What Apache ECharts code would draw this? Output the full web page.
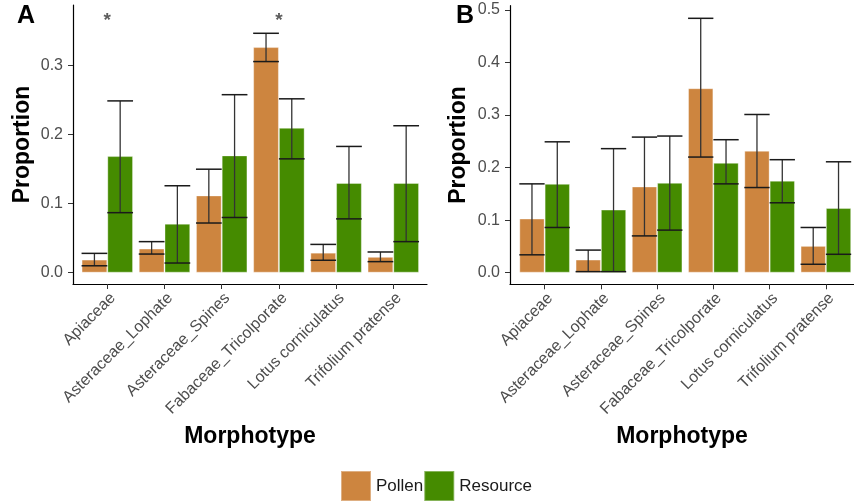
<!DOCTYPE html>
<html><head><meta charset="utf-8">
<script src="https://cdn.jsdelivr.net/npm/echarts@6/dist/echarts.min.js"></script>
<style>html,body{margin:0;padding:0;background:#fff}#c{width:854px;height:501px}</style>
</head><body><div id="c"></div>
<script>
// ---------- data ----------
const categories = ['Apiaceae','Asteraceae_Lophate','Asteraceae_Spines','Fabaceae_Tricolporate','Lotus corniculatus','Trifolium pratense'];
const seriesNames = ['Pollen','Resource'];

// Panel A
const aPollen     = [0.019, 0.035, 0.112, 0.327, 0.029, 0.023];
const aPollenLo   = [0.010, 0.027, 0.072, 0.306, 0.018, 0.016];
const aPollenHi   = [0.028, 0.045, 0.150, 0.347, 0.041, 0.030];
const aResource   = [0.169, 0.071, 0.170, 0.210, 0.130, 0.130];
const aResourceLo = [0.087, 0.014, 0.080, 0.165, 0.078, 0.045];
const aResourceHi = [0.249, 0.126, 0.258, 0.252, 0.183, 0.213];
const aStarCats   = ['Apiaceae','Fabaceae_Tricolporate'];
const aStarLevel  = 0.365;

// Panel B
const bPollen     = [0.103, 0.025, 0.164, 0.351, 0.232, 0.051];
const bPollenLo   = [0.034, 0.002, 0.070, 0.220, 0.162, 0.016];
const bPollenHi   = [0.169, 0.043, 0.258, 0.484, 0.301, 0.086];
const bResource   = [0.169, 0.120, 0.171, 0.209, 0.175, 0.123];
const bResourceLo = [0.086, 0.002, 0.081, 0.169, 0.133, 0.035];
const bResourceHi = [0.249, 0.236, 0.260, 0.253, 0.215, 0.211];

const aTicks = [0, 0.1, 0.2, 0.3];
const bTicks = [0, 0.1, 0.2, 0.3, 0.4, 0.5];

// ---------- styling ----------
const FONT = "'Liberation Sans', Arial, sans-serif";
const POLLEN = '#CD853F', RESOURCE = '#458B00';

function errRender(sign){
  return function(params, api){
    const i = api.value(0), lo = api.value(1), hi = api.value(2);
    const bw = api.size([1, 0])[0];
    const half = bw * 0.225;
    const pLo = api.coord([i, lo]);
    const pHi = api.coord([i, hi]);
    const cx = pLo[0] + sign * half;
    const st = {stroke: '#1a1a1a', lineWidth: 1.5};
    return {type: 'group', children: [
      {type: 'line', shape: {x1: cx, y1: pLo[1], x2: cx, y2: pHi[1]}, style: {stroke: '#333', lineWidth: 1.3}},
      {type: 'line', shape: {x1: cx - half, y1: pHi[1], x2: cx + half, y2: pHi[1]}, style: st},
      {type: 'line', shape: {x1: cx - half, y1: pLo[1], x2: cx + half, y2: pLo[1]}, style: st}
    ]};
  };
}
function errData(lo, hi){ return lo.map((v, i) => [i, v, hi[i]]); }

function frameX(idx, name){
  return {gridIndex: idx, type: 'value', min: 0, max: 1,
    axisLine: {show: true, onZero: false, lineStyle: {color: '#000', width: 1.2}},
    axisTick: {show: false}, axisLabel: {show: false}, splitLine: {show: false},
    name: name, nameLocation: 'middle', nameGap: 141,
    nameTextStyle: {fontSize: 23, fontWeight: 'bold', color: '#000', fontFamily: FONT}};
}
function frameY(idx, min, max, ticks, gap){
  return {gridIndex: idx, type: 'value', min: min, max: max,
    axisLine: {show: true, onZero: false, lineStyle: {color: '#000', width: 1.2}},
    axisTick: {show: true, length: 5, customValues: ticks, lineStyle: {color: '#333'}},
    axisLabel: {show: true, customValues: ticks, formatter: v => v.toFixed(1), margin: 10,
      fontSize: 16, color: '#4D4D4D', fontFamily: FONT},
    splitLine: {show: false},
    name: 'Proportion', nameLocation: 'middle', nameGap: gap,
    nameTextStyle: {fontSize: 23, fontWeight: 'bold', color: '#000', fontFamily: FONT}};
}
function catX(idx){
  return {gridIndex: idx, type: 'category', data: categories,
    axisLine: {show: false, onZero: false},
    axisTick: {show: true, alignWithLabel: true, length: 5, lineStyle: {color: '#333'}},
    axisLabel: {interval: 0, rotate: 45, margin: 6, verticalAlign: 'top', fontSize: 16, color: '#4D4D4D', fontFamily: FONT},
    splitLine: {show: false}};
}
function hidY(idx, min, max){
  return {gridIndex: idx, type: 'value', min: min, max: max, show: false, splitLine: {show: false}};
}
function bar(name, data, color, xi){
  return {type: 'bar', name: name, data: data, xAxisIndex: xi, yAxisIndex: xi,
    barWidth: '45%', barGap: '0%', itemStyle: {color: color, borderColor: 'rgba(255,255,255,0.35)', borderWidth: 1}, z: 2};
}
function err(name, lo, hi, sign, xi){
  return {type: 'custom', name: name, data: errData(lo, hi), xAxisIndex: xi, yAxisIndex: xi,
    renderItem: errRender(sign), encode: {x: 0, y: [1, 2]}, z: 5, clip: false, silent: true};
}

const aMin = -0.0164, aMax = 0.388;
const bMin = -0.0221, bMax = 0.508;

const option = {
  animation: false,
  backgroundColor: '#fff',
  textStyle: {fontFamily: FONT},
  title: [
    {text: 'A', left: 17, top: 4, padding: 0, textStyle: {fontSize: 25, fontWeight: 'bold', color: '#000', fontFamily: FONT}},
    {text: 'B', left: 456, top: 4, padding: 0, textStyle: {fontSize: 25, fontWeight: 'bold', color: '#000', fontFamily: FONT}}
  ],
  legend: {data: seriesNames, left: 340, top: 470, padding: 0, itemWidth: 30, itemHeight: 30, itemGap: 0,
    icon: 'rect', textStyle: {fontSize: 17, color: '#1a1a1a', fontFamily: FONT}},
  grid: [
    {left: 73, top: 5, width: 354, height: 279},
    {left: 78.7, top: 5, width: 343.2, height: 279},
    {left: 510, top: 5.7, width: 354, height: 278.6},
    {left: 516.5, top: 5.7, width: 342, height: 278.6}
  ],
  xAxis: [frameX(0, 'Morphotype'), catX(1), frameX(2, 'Morphotype'), catX(3)],
  yAxis: [frameY(0, aMin, aMax, aTicks, 39), hidY(1, aMin, aMax), frameY(2, bMin, bMax, bTicks, 40), hidY(3, bMin, bMax)],
  series: [
    bar('Pollen', aPollen, POLLEN, 1),
    bar('Resource', aResource, RESOURCE, 1),
    err('Pollen', aPollenLo, aPollenHi, -1, 1),
    err('Resource', aResourceLo, aResourceHi, 1, 1),
    {type: 'scatter', xAxisIndex: 1, yAxisIndex: 1, data: aStarCats.map(c => [c, aStarLevel]),
      symbolSize: 1, itemStyle: {color: 'rgba(0,0,0,0)'}, silent: true, z: 6,
      label: {show: true, position: 'inside', formatter: '*', fontSize: 19, fontWeight: 'bold', color: '#333', fontFamily: FONT}},
    bar('Pollen', bPollen, POLLEN, 3),
    bar('Resource', bResource, RESOURCE, 3),
    err('Pollen', bPollenLo, bPollenHi, -1, 3),
    err('Resource', bResourceLo, bResourceHi, 1, 3)
  ]
};
const chart = echarts.init(document.getElementById('c'), null, {renderer: 'canvas'});
chart.setOption(option);
</script></body></html>
